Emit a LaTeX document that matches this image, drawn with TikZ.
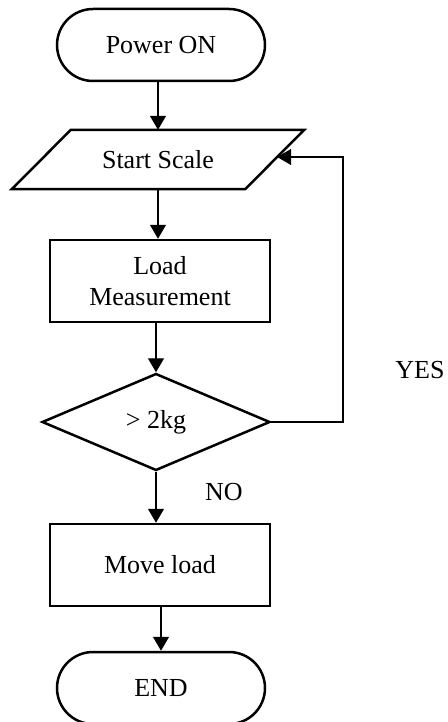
\documentclass[tikz,border=0pt]{standalone}
\usepackage{fontspec}
\setmainfont{Liberation Serif}
\usetikzlibrary{arrows.meta,shapes.geometric,calc}
\begin{document}
\begin{tikzpicture}[x=1pt,y=-1pt,
  font=\fontsize{26}{31}\selectfont,
  term/.style={draw, line width=2.5pt, rounded corners=36pt, minimum width=208pt, minimum height=72pt, inner sep=0pt},
  proc/.style={draw, line width=2.5pt, minimum width=220pt, minimum height=82pt, inner sep=0pt, align=center},
  dec/.style={draw, diamond, line width=2.5pt, minimum width=228pt, minimum height=97pt, aspect=2.35, inner sep=0pt},
  io/.style={minimum width=233pt, minimum height=59pt, inner sep=0pt},
  arr/.style={line width=1.4pt, -{Triangle[length=14pt,width=16pt]}},
  lbl/.style={inner sep=0pt}]
\useasboundingbox (0,0) rectangle (447,722);
\clip (0,0) rectangle (447,722);
\node[term] (pw) at (161,45) {Power ON};
\node[io] (ss) at (158,159.5) {Start Scale};
\coordinate (ssTL) at ($(ss.north west)+(29.5,0)$);
\coordinate (ssTR) at ($(ss.north east)+(29.5,0)$);
\coordinate (ssBR) at ($(ss.south east)+(-29.5,0)$);
\coordinate (ssBL) at ($(ss.south west)+(-29.5,0)$);
\draw[line width=2.5pt] (ssTL) -- (ssTR) -- (ssBR) -- (ssBL) -- cycle;
\node[proc] (lm) at (160,281) {Load\\Measurement};
\node[dec] (dm) at (156,422) {> 2kg};
\node[proc] (mv) at (160,565) {Move load};
\node[term] (en) at (161,688) {END};
\node[lbl] (yes) at (420,370) {YES};
\node[lbl] (no) at (224,492) {NO};
\coordinate (fbx) at (343,0);
\coordinate (ssin) at ($(ssTR)!0.458!(ssBR)$);
\draw[arr] (pw.south -| ss.center) -- (ss.north);
\draw[arr] (ss.south) -- (ss.south |- lm.north);
\draw[arr] (lm.south -| dm.north) -- (dm.north);
\draw[arr] (dm.south) -- (dm.south |- mv.north);
\draw[arr] (mv.south -| en.north) -- (en.north);
\draw[arr] (dm.east) -- (dm.east -| fbx) -- (fbx |- ssin) -- (ssin);
\end{tikzpicture}
\end{document}
